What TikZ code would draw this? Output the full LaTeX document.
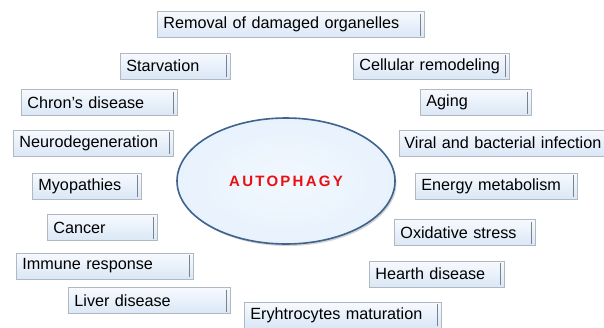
\documentclass[tikz,border=0pt]{standalone}
\usepackage{fontspec}
\setmainfont{Liberation Sans}
\usepackage{tikz}
\usetikzlibrary{shapes.geometric, shadows}
\usepackage{xcolor}
\definecolor{boxtop}{RGB}{247,250,254}
\definecolor{boxbottom}{RGB}{218,231,246}
\definecolor{boxline}{RGB}{176,184,194}
\definecolor{boxdark}{RGB}{122,130,140}
\definecolor{cellfill}{RGB}{232,242,253}
\definecolor{cellline}{RGB}{64,98,142}
\definecolor{titlered}{RGB}{232,16,16}

\tikzset{
  tag/.style={draw=boxline, line width=0.8pt, top color=boxtop, bottom color=boxbottom,
    anchor=west, minimum height=26pt, inner xsep=6pt, inner ysep=0pt, align=left, text width=#1,
    font=\fontsize{16.2}{18}\selectfont,
    path picture={\draw[boxdark, line width=1.3pt]
      ([xshift=-4pt,yshift=-2pt]path picture bounding box.north east) --
      ([xshift=-4pt,yshift=2pt]path picture bounding box.south east);
      \draw[boxdark!70, line width=1pt]
      (path picture bounding box.south west) -- (path picture bounding box.south east);}},
  core/.style={ellipse, draw=cellline, line width=1.6pt, inner color=white!40!cellfill, outer color=cellfill,
    minimum width=218pt, minimum height=126pt, inner sep=0pt,
    drop shadow={shadow xshift=1.5pt, shadow yshift=-2pt, opacity=0.35},
    font=\fontsize{15}{18}\selectfont\bfseries, text=titlered}
}

\begin{document}
\begin{tikzpicture}[x=1pt, y=-1pt]
  \useasboundingbox (0,0) rectangle (604,327);
  \fill[white] (0,0) rectangle (604,327);
  \node[core] (autophagy) at (286,181) {\addfontfeatures{LetterSpace=15}AUTOPHAGY};
  \node[tag=255pt] (removal) at (157,24.5) {Removal of damaged organelles};
  \node[tag=98pt] (starvation) at (120,66) {Starvation};
  \node[tag=144pt] (remodeling) at (353,66) {Cellular remodeling};
  \node[tag=144pt] (chron) at (21,102.5) {Chron’s disease};
  \node[tag=99pt] (aging) at (420,102.5) {Aging};
  \node[tag=148pt] (neuro) at (13,143) {Neurodegeneration};
  \node[tag=205pt, inner xsep=5pt] (infection) at (399,143) {Viral and bacterial infection};
  \node[tag=97pt] (myopathies) at (32,186) {Myopathies};
  \node[tag=150pt] (energy) at (415,186) {Energy metabolism};
  \node[tag=98pt] (cancer) at (47,227.5) {Cancer};
  \node[tag=129pt] (oxidative) at (394,232.5) {Oxidative stress};
  \node[tag=165pt] (immune) at (16,266) {Immune response};
  \node[tag=123pt] (hearth) at (369,274) {Hearth disease};
  \node[tag=150pt] (liver) at (68,300.5) {Liver disease};
  \node[tag=185pt] (erythro) at (244,315) {Eryhtrocytes maturation};
\end{tikzpicture}
\end{document}
